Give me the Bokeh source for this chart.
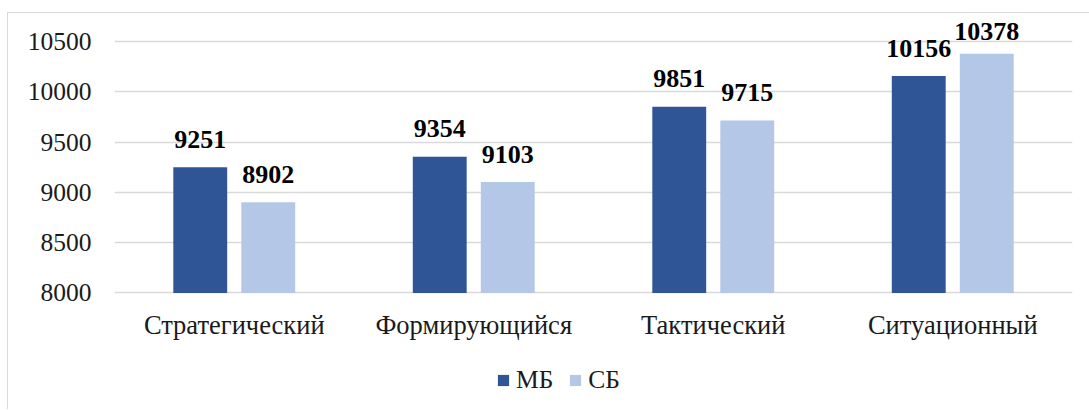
from bokeh.plotting import figure
from bokeh.layouts import column
from bokeh.models import ColumnDataSource, FactorRange, Range1d, FixedTicker, Legend, LegendItem
from bokeh.transform import dodge
from bokeh.core.properties import value
from bokeh.embed import file_html
from bokeh.resources import INLINE

categories = ["Стратегический", "Формирующийся", "Тактический", "Ситуационный"]
series_names = ["МБ", "СБ"]
mb_values = [9251, 9354, 9851, 10156]
sb_values = [8902, 9103, 9715, 10378]
y_ticks = [8000, 8500, 9000, 9500, 10000, 10500]

MB_COLOR = "#2F5597"
SB_COLOR = "#B4C7E7"
GRID = "#d9d9d9"
FONT = "Liberation Serif"

Y_START, Y_END = 7985, 10778
FRAME_H = 281.0
PX_PER_UNIT = FRAME_H / (Y_END - Y_START)


def label_offset(v):
    # keep data labels inside the plot area (as the original chart does)
    return max(-28.0, -(Y_END - v) * PX_PER_UNIT + 18.0)


src = ColumnDataSource(dict(
    cat=categories,
    mb=mb_values,
    sb=sb_values,
    mb_txt=[str(v) for v in mb_values],
    sb_txt=[str(v) for v in sb_values],
    mb_off=[label_offset(v) for v in mb_values],
    sb_off=[label_offset(v) for v in sb_values],
))

p = figure(
    x_range=FactorRange(*categories, range_padding=0),
    y_range=Range1d(Y_START, Y_END),
    width=1081, height=351,
    output_backend="svg", toolbar_location=None,
    min_border_left=106, min_border_right=17, min_border_top=0, min_border_bottom=70,
)
p.outline_line_color = None
p.background_fill_color = "white"
p.border_fill_color = "white"

off = 0.142
w = 0.225
r1 = p.vbar(x=dodge("cat", -off, range=p.x_range), top="mb", bottom=8000, width=w, source=src,
            fill_color=MB_COLOR, line_color=None)
r2 = p.vbar(x=dodge("cat", off, range=p.x_range), top="sb", bottom=8000, width=w, source=src,
            fill_color=SB_COLOR, line_color=None)

p.text(x=dodge("cat", -off, range=p.x_range), y="mb", text="mb_txt", source=src,
       text_align="center", text_baseline="alphabetic", y_offset="mb_off",
       text_font=value(FONT), text_font_style="bold", text_font_size="26px", text_color="black")
p.text(x=dodge("cat", off, range=p.x_range), y="sb", text="sb_txt", source=src,
       text_align="center", text_baseline="alphabetic", y_offset="sb_off",
       text_font=value(FONT), text_font_style="bold", text_font_size="26px", text_color="black")

p.xgrid.grid_line_color = None
p.ygrid.grid_line_color = GRID
p.ygrid.grid_line_width = 1.5
p.yaxis.ticker = FixedTicker(ticks=y_ticks)

for ax in (p.xaxis[0], p.yaxis[0]):
    ax.axis_line_color = None
    ax.major_tick_line_color = None
    ax.minor_tick_line_color = None
    ax.major_tick_out = 0
    ax.major_tick_in = 0
    ax.major_label_text_font = FONT
    ax.major_label_text_font_size = "25.5px"
    ax.major_label_text_color = "#1a1a1a"
p.xaxis.major_label_text_font_size = "26.5px"
p.yaxis.major_label_standoff = 23
p.xaxis.major_label_standoff = 15

# legend strip below the chart (its frame is aligned with the chart frame by the column)
lg = figure(width=1081, height=45, x_range=(0, 1), y_range=(0, 1),
            output_backend="svg", toolbar_location=None,
            min_border_left=0, min_border_right=0, min_border_top=0, min_border_bottom=0,
            x_axis_type=None, y_axis_type=None)
lg.outline_line_color = None
lg.xgrid.grid_line_color = None
lg.ygrid.grid_line_color = None
lsrc = ColumnDataSource(dict(x=[-10], top=[-10]))
d1 = lg.vbar(x="x", top="top", bottom=-11, width=0.1, source=lsrc, fill_color=MB_COLOR, line_color=None)
d2 = lg.vbar(x="x", top="top", bottom=-11, width=0.1, source=lsrc, fill_color=SB_COLOR, line_color=None)

legend = Legend(
    items=[LegendItem(label=series_names[0], renderers=[d1]),
           LegendItem(label=series_names[1], renderers=[d2])],
    orientation="horizontal",
    location=(382, 14),
    padding=0, margin=0, spacing=15,
    glyph_width=14, glyph_height=14, label_standoff=6,
    label_text_font=FONT, label_text_font_size="25.5px", label_text_color="#1a1a1a",
    border_line_color=None, background_fill_alpha=0,
)
lg.add_layout(legend, "center")

layout = column(p, lg, spacing=0)
layout.styles = {"border-left": "1px solid #d9d9d9", "border-top": "1px solid #d9d9d9",
                 "margin-top": "12px", "margin-left": "7px"}

open("out.html", "w").write(file_html(layout, INLINE))
